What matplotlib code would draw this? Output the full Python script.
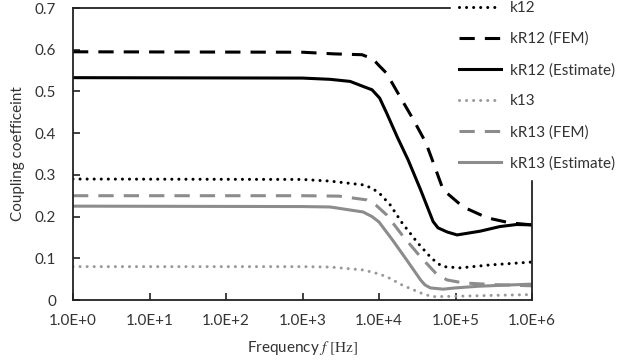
import matplotlib
matplotlib.use("Agg")
import matplotlib.pyplot as plt

plt.rcParams['font.family'] = ['Lato', 'DejaVu Sans']
plt.rcParams['mathtext.fontset'] = 'stix'

# ---- data ----
k12_f = [1, 1e3, 2.3e3, 6.2e3, 7.9e3, 1.0e4, 1.4e4, 2.0e4, 3.2e4, 4.7e4, 5.8e4, 6.9e4, 1.15e5, 2.8e5, 1e6]
k12_v = [0.29, 0.289, 0.285, 0.276, 0.269, 0.257, 0.228, 0.185, 0.137, 0.103, 0.088, 0.080, 0.077, 0.084, 0.091]

kR12_fem_f = [1, 1e3, 2.6e3, 6.0e3, 8.3e3, 1.0e4, 1.25e4, 1.86e4, 2.8e4, 4.1e4, 5.2e4, 6.9e4, 1.26e5, 2.6e5, 5.1e5, 1e6]
kR12_fem_v = [0.595, 0.594, 0.59, 0.588, 0.578, 0.562, 0.544, 0.489, 0.433, 0.377, 0.326, 0.264, 0.223, 0.197, 0.185, 0.18]

kR12_est_f = [1, 1e3, 2.3e3, 4.2e3, 6.2e3, 8.1e3, 1.02e4, 1.26e4, 1.74e4, 2.4e4, 3.5e4, 5.1e4, 5.9e4, 7.8e4, 1.05e5, 2.1e5, 3.8e5, 6.3e5, 1e6]
kR12_est_v = [0.533, 0.532, 0.529, 0.524, 0.512, 0.504, 0.484, 0.448, 0.39, 0.336, 0.264, 0.188, 0.173, 0.163, 0.156, 0.165, 0.176, 0.181, 0.18]

k13_f = [1, 1e3, 2.3e3, 6.2e3, 8.9e3, 1.26e4, 2.0e4, 3.5e4, 4.2e4, 5.1e4, 1e5, 3e5, 1e6]
k13_v = [0.08, 0.08, 0.079, 0.072, 0.065, 0.056, 0.036, 0.017, 0.012, 0.008, 0.009, 0.011, 0.013]

kR13_fem_f = [1, 1e3, 3e3, 6.9e3, 9.3e3, 1.26e4, 2.0e4, 3.5e4, 5.8e4, 7.8e4, 1.26e5, 3e5, 1e6]
kR13_fem_v = [0.25, 0.25, 0.249, 0.24, 0.226, 0.204, 0.156, 0.103, 0.060, 0.048, 0.041, 0.037, 0.034]

kR13_est_f = [1, 1e3, 2.3e3, 6.2e3, 8.1e3, 1.0e4, 1.5e4, 2.3e4, 3.5e4, 4.0e4, 4.7e4, 6.9e4, 1e5, 2e5, 5e5, 1e6]
kR13_est_v = [0.225, 0.224, 0.223, 0.211, 0.200, 0.187, 0.144, 0.096, 0.048, 0.036, 0.029, 0.026, 0.029, 0.033, 0.036, 0.038]

labels = ['k12', 'kR12 (FEM)', 'kR12 (Estimate)', 'k13', 'kR13 (FEM)', 'kR13 (Estimate)']
x_ticks = [1, 1e1, 1e2, 1e3, 1e4, 1e5, 1e6]
x_ticklabels = ['1.0E+0', '1.0E+1', '1.0E+2', '1.0E+3', '1.0E+4', '1.0E+5', '1.0E+6']
y_ticks = [0, 0.1, 0.2, 0.3, 0.4, 0.5, 0.6, 0.7]
y_ticklabels = ['0', '0.1', '0.2', '0.3', '0.4', '0.5', '0.6', '0.7']

# ---- figure ----
W, H = 637, 362
fig = plt.figure(figsize=(W / 100, H / 100), dpi=100)
ax = fig.add_axes([73 / W, (H - 300) / H, (532 - 73) / W, (300 - 8) / H])

lw = 2.2
grey = '#8c8c8c'
grey_dot = '#9a9a9a'
dot = (0, (0.01, 2.3))
dash = (0, (5.0, 3.3))

ax.plot(k12_f, k12_v, color='black', lw=lw, linestyle=dot, dash_capstyle='round', label=labels[0])
ax.plot(kR12_fem_f, kR12_fem_v, color='black', lw=lw, linestyle=dash, dash_capstyle='butt', label=labels[1])
ax.plot(kR12_est_f, kR12_est_v, color='black', lw=lw, linestyle='-', label=labels[2])
ax.plot(k13_f, k13_v, color=grey_dot, lw=lw, linestyle=dot, dash_capstyle='round', label=labels[3])
ax.plot(kR13_fem_f, kR13_fem_v, color=grey, lw=lw, linestyle=dash, dash_capstyle='butt', label=labels[4])
ax.plot(kR13_est_f, kR13_est_v, color=grey, lw=lw, linestyle='-', label=labels[5])

ax.set_xscale('log')
ax.set_xlim(1, 1e6)
ax.set_ylim(0, 0.7)
ax.set_xticks(x_ticks)
ax.set_xticklabels(x_ticklabels)
ax.minorticks_off()
ax.set_yticks(y_ticks)
ax.set_yticklabels(y_ticklabels)

txt = '#333333'
fs = 11
ax.tick_params(axis='x', direction='in', length=5, width=1.3, pad=10, labelsize=fs, colors=txt)
ax.tick_params(axis='y', direction='in', length=5, width=1.3, pad=12, labelsize=fs, colors=txt)
for s in ax.spines.values():
    s.set_linewidth(1.3)
    s.set_color('#222222')

ax.set_xlabel(r'Frequency $f\ \mathrm{[Hz]}$', fontsize=fs, color=txt, labelpad=8)
ax.set_ylabel('Coupling coefficeint', fontsize=fs, color=txt, labelpad=7)

handles, labs = ax.get_legend_handles_labels()
leg = fig.legend(handles, labs, loc='upper left',
                 bbox_to_anchor=(443 / W, 1 + 15 / H),
                 fontsize=fs, frameon=True, facecolor='white', edgecolor='white',
                 framealpha=1, fancybox=False, borderpad=0.55, labelspacing=1.1,
                 handlelength=2.75, handletextpad=0.6)
for t in leg.get_texts():
    t.set_color(txt)

fig.savefig('out.png', dpi=100)
